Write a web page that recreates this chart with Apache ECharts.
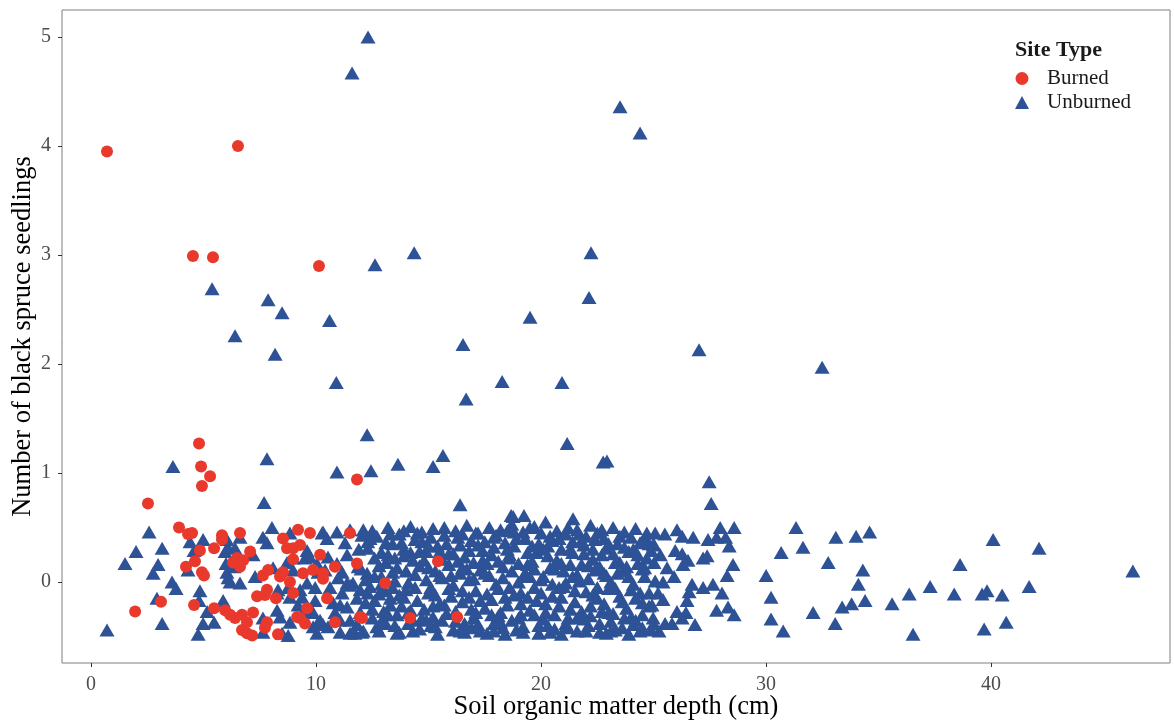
<!DOCTYPE html>
<html>
<head>
<meta charset="utf-8">
<script src="https://cdn.jsdelivr.net/npm/echarts@6/dist/echarts.min.js"></script>
<style>html,body{margin:0;padding:0;background:#fff}#c{width:1174px;height:720px}</style>
</head>
<body>
<div id="c"></div>
<script>
// ---- data (soil organic matter depth [cm], jittered seedling count) ----
const xTicks = [0, 10, 20, 30, 40];
const yTicks = [0, 1, 2, 3, 4, 5];
const seriesNames = ['Burned', 'Unburned'];

const burned = [
[0.71,3.95],[6.53,4.0],[4.53,2.99],[5.42,2.98],[10.13,2.9],[4.8,1.27],[4.89,1.06],[5.29,0.97],[4.93,0.88],[11.82,0.94],
[2.53,0.72],[1.96,-0.27],[3.11,-0.18],[3.91,0.5],[4.31,0.44],[4.49,0.45],[4.22,0.14],[4.62,0.19],[5.02,0.06],[4.93,0.09],
[4.84,0.29],[4.58,-0.21],[5.47,0.31],[5.82,0.43],[5.82,0.39],[5.47,-0.24],[5.96,-0.26],[6.18,-0.3],[6.62,0.45],[7.07,0.28],
[6.49,0.22],[6.76,0.2],[6.62,0.14],[6.31,0.18],[6.71,-0.3],[6.4,-0.33],[6.93,-0.37],[6.71,-0.44],[6.93,-0.47],[7.16,-0.49],
[7.2,-0.28],[7.38,-0.13],[7.82,-0.07],[7.73,-0.12],[8.22,-0.15],[7.82,-0.37],[7.73,-0.42],[8.31,-0.48],[7.64,0.06],[7.87,0.11],
[8.4,0.05],[8.53,0.09],[8.84,0.0],[8.98,-0.1],[8.53,0.4],[8.71,0.31],[8.98,0.31],[9.29,0.34],[9.2,0.48],[9.73,0.45],
[8.98,0.21],[9.42,0.08],[9.87,0.11],[10.31,0.08],[10.18,0.25],[10.84,0.14],[9.6,-0.24],[9.16,-0.32],[9.29,-0.33],[9.51,-0.38],
[10.49,-0.15],[10.84,-0.37],[11.51,0.45],[11.82,0.17],[11.96,-0.32],[13.07,-0.01],[15.42,0.19],[12.04,-0.33],[14.18,-0.33],[16.27,-0.32],
[10.31,0.03]
];

const unburnedHigh = [
[3.64,1.06],[5.38,2.69],[6.4,2.26],[7.87,2.59],[8.49,2.47],[8.18,2.09],[7.82,1.13],[7.69,0.73],[10.6,2.4],[10.9,1.83],
[10.93,1.01],[11.6,4.67],[12.31,5.0],[12.62,2.91],[12.27,1.35],[12.44,1.02],[13.64,1.08],[14.36,3.02],[15.2,1.06],[15.64,1.16],
[16.53,2.18],[16.67,1.68],[16.4,0.71],[18.27,1.84],[19.51,2.43],[20.93,1.83],[21.16,1.27],[22.22,3.02],[22.13,2.61],[22.76,1.1],
[22.93,1.11],[23.51,4.36],[24.4,4.12],[27.02,2.13],[27.47,0.92],[27.56,0.72],[32.49,1.97],[46.3,0.1],
[18.76,0.6],[21.42,0.58],[18.67,0.61],[19.24,0.61]
];

const unburnedLeft = [
[0.71,-0.44],[1.51,0.17],[2.0,0.28],[2.58,0.46],[3.16,0.31],[2.98,0.16],[2.76,0.08],[3.6,0.0],[3.78,-0.06],[2.93,-0.15],
[3.16,-0.38],[4.4,0.37],[4.98,0.39],[4.58,0.29],[4.31,0.11],[4.84,-0.08],[4.8,-0.17],[5.87,-0.17],[5.16,-0.27],[4.98,-0.38],
[5.47,-0.37],[4.76,-0.48],[5.96,0.28],[6.04,0.09],[6.62,0.41],[6.09,0.32],[6.0,0.17],[6.36,0.14],[6.09,0.04],[6.62,-0.01],
[8.04,0.5],[7.82,0.36],[8.09,0.13],[8.71,0.18],[8.98,0.11],[8.31,-0.07],[9.29,-0.07],[9.38,-0.14],[8.27,-0.1],[9.2,-0.21],
[9.87,-0.28],[8.4,-0.32],[8.84,-0.37],[8.76,-0.49],[10.09,-0.37],[10.04,-0.47],[9.42,-0.28],[9.6,0.29],[9.51,0.22],[10.31,0.46],
[10.49,0.4],[10.93,0.46],[11.38,0.25],[10.98,0.04],[11.38,-0.01],[11.64,-0.01],[11.16,-0.1],[10.76,-0.19],[11.07,-0.21],[11.38,-0.23],
[11.51,-0.35],[10.31,-0.39],[10.53,-0.41],[11.07,-0.46],[11.51,-0.47],[11.73,-0.47],[7.64,-0.33],[8.49,-0.47],[9.6,-0.01],[10.4,0.11],
[10.04,0.17],[8.84,0.45],[10.27,0.45],[11.51,0.48],[12.04,0.43],[11.29,0.36],[6.4,0.31],[7.2,0.25],[9.73,0.23],[10.53,0.23],
[10.93,0.17],[11.16,0.09],[11.87,0.14],[12.27,0.08],[8.98,0.22],[10.09,0.09],[6.18,0.0],[8.76,-0.05],[9.96,-0.05],[10.62,-0.05],
[11.51,-0.03],[11.96,-0.07],[11.82,-0.15],[9.96,-0.17],[10.84,-0.28],[11.96,-0.28],[9.73,-0.28],[10.18,-0.35],[11.07,-0.35],[7.64,-0.46],
[12.04,-0.46],[11.82,-0.39],[9.87,-0.41],[6.04,0.39],[7.64,0.41],[7.29,0.05],[8.27,-0.26],[8.84,-0.14]
];

const unburnedCore = [
[12.1,0.48],[12.3,0.31],[12.0,0.12],[12.4,-0.04],[12.2,-0.19],[12.5,-0.33],[12.1,-0.45],[12.6,0.22],
[12.7,0.42],[12.9,0.27],[12.6,0.05],[12.8,-0.11],[13.0,-0.27],[12.7,-0.41],[13.1,0.36],[12.9,-0.02],
[13.2,0.5],[13.4,0.35],[13.1,0.18],[13.5,0.01],[13.3,-0.15],[13.2,-0.3],[13.6,-0.47],[13.4,0.09],
[13.7,0.44],[13.9,0.24],[13.6,0.13],[14.0,-0.07],[13.8,-0.22],[14.1,-0.38],[13.9,0.3],[13.7,-0.46],
[14.2,0.51],[14.4,0.39],[14.3,0.2],[14.1,-0.01],[14.5,-0.17],[14.3,-0.35],[14.6,-0.43],[14.4,0.07],
[14.7,0.46],[14.9,0.28],[14.6,0.15],[15.0,-0.1],[14.8,-0.25],[15.1,-0.4],[14.9,0.02],[14.7,0.37],
[15.2,0.49],[15.4,0.33],[15.3,0.1],[15.1,-0.05],[15.5,-0.2],[15.2,-0.32],[15.4,-0.48],[15.6,0.21],
[15.7,0.43],[15.9,0.26],[15.6,0.04],[16.0,-0.13],[15.8,-0.29],[16.1,-0.44],[15.9,0.16],[15.7,0.5],
[16.2,0.47],[16.4,0.34],[16.3,0.19],[16.1,-0.03],[16.5,-0.18],[16.2,-0.36],[16.6,-0.46],[16.4,0.08],
[16.7,0.52],[16.9,0.38],[16.6,0.23],[17.0,0.03],[16.8,-0.14],[17.1,-0.28],[16.9,-0.42],[16.7,0.12],
[17.2,0.45],[17.4,0.29],[17.3,0.11],[17.1,-0.08],[17.5,-0.24],[17.2,-0.39],[17.6,-0.47],[17.4,0.2],
[17.7,0.5],[17.9,0.32],[17.6,0.17],[18.0,-0.02],[17.8,-0.16],[18.1,-0.31],[17.9,-0.45],[17.7,0.06],
[18.2,0.48],[18.4,0.36],[18.3,0.14],[18.1,-0.06],[18.5,-0.21],[18.2,-0.37],[18.6,0.25],[18.4,-0.48],
[18.7,0.53],[18.9,0.4],[18.6,0.22],[19.0,0.0],[18.8,-0.12],[19.1,-0.3],[18.9,-0.44],[18.7,0.1],
[19.2,0.46],[19.4,0.27],[19.3,0.08],[19.1,-0.1],[19.5,-0.26],[19.2,-0.41],[19.6,0.33],[19.4,0.16],
[19.7,0.51],[19.9,0.35],[19.6,0.19],[20.0,0.02],[19.8,-0.17],[20.1,-0.34],[19.9,-0.47],[19.7,-0.05],
[20.2,0.55],[20.4,0.42],[20.3,0.24],[20.1,0.05],[20.5,-0.13],[20.2,-0.28],[20.6,-0.43],[20.4,0.13],
[20.7,0.47],[20.9,0.3],[20.6,0.12],[21.0,-0.04],[20.8,-0.22],[21.1,-0.38],[20.9,-0.48],[20.7,0.2],
[21.2,0.5],[21.4,0.37],[21.3,0.16],[21.1,-0.01],[21.5,-0.18],[21.2,-0.33],[21.6,-0.45],[21.4,0.27],
[21.7,0.44],[21.9,0.26],[21.6,0.07],[22.0,-0.09],[21.8,-0.27],[22.1,-0.4],[21.9,0.34],[21.7,0.01],
[22.2,0.52],[22.4,0.39],[22.3,0.21],[22.1,0.03],[22.5,-0.15],[22.2,-0.31],[22.6,-0.46],[22.4,0.11],
[22.7,0.48],[22.9,0.31],[22.6,0.14],[23.0,-0.06],[22.8,-0.2],[23.1,-0.36],[22.9,-0.47],[22.7,0.25],
[23.2,0.5],[23.4,0.35],[23.3,0.18],[23.1,0.0],[23.5,-0.13],[23.2,-0.29],[23.6,-0.42],[23.4,0.08],
[23.7,0.46],[23.9,0.28],[23.6,0.1],[24.0,-0.07],[23.8,-0.24],[24.1,-0.39],[23.9,-0.48],[23.7,0.32],
[24.2,0.49],[24.4,0.36],[24.3,0.17],[24.1,-0.02],[24.5,-0.19],[24.2,-0.35],[24.6,0.05],[24.4,-0.45],
[24.7,0.45],[24.9,0.29],[24.6,0.13],[24.8,-0.1],[24.5,-0.3],[24.9,-0.44],[24.7,0.22],
[12.4,0.4],[12.2,0.02],[12.5,-0.25],[12.3,0.37],[12.8,0.15],[12.9,-0.36],[12.6,-0.17],
[13.3,0.44],[13.0,-0.08],[13.2,0.25],[13.5,-0.4],[13.3,-0.21],
[13.8,0.36],[13.6,-0.3],[14.0,0.1],[13.9,-0.14],[14.2,0.27],[14.3,-0.45],[14.5,0.45],[14.2,-0.26],
[14.8,0.2],[14.9,-0.35],[15.1,0.41],[15.0,0.13],[15.3,-0.12],[15.5,0.28],[15.3,-0.41],[15.8,0.35],
[15.7,-0.21],[16.0,0.06],[16.2,-0.27],[16.3,0.41],[16.5,0.13],[16.6,-0.38],[16.5,-0.08],[16.8,0.29],
[17.0,-0.33],[17.1,0.45],[17.3,-0.17],[17.0,0.18],[17.5,0.37],[17.6,-0.11],[17.8,0.25],[17.9,-0.38],
[18.0,0.43],[18.3,0.04],[18.2,-0.28],[18.5,0.3],[18.4,-0.14],[18.8,0.46],[18.7,-0.35],[19.0,0.17],
[19.1,-0.2],[19.3,0.4],[19.2,-0.46],[19.5,0.05],[19.7,-0.3],[19.8,0.27],[20.0,-0.1],[20.0,0.45],
[20.3,-0.4],[20.3,0.33],[20.5,-0.02],[20.6,-0.3],[20.8,0.4],[21.0,0.1],[20.9,-0.14],[21.2,-0.42],
[21.3,0.3],[21.5,-0.08],[21.6,0.48],[21.8,0.16],[21.9,-0.34],[22.0,0.42],[22.2,-0.22],[22.3,0.3],
[22.5,-0.05],[22.6,-0.38],[22.8,0.4],[22.9,0.06],[23.0,-0.28],[23.2,0.26],[23.3,-0.44],[23.5,0.42],
[23.6,-0.18],[23.8,0.14],[24.0,0.41],[24.0,-0.32],[24.3,0.25],[24.4,-0.1],[24.6,0.4],[24.8,-0.22],
[25.0,0.35],[25.0,-0.38],
[12.5,0.47],[12.3,-0.1],[12.8,-0.45],[12.9,0.05],[13.1,-0.38],[13.4,-0.05],[13.5,0.22],[13.7,-0.12],[13.9,0.47],[14.1,-0.28],
[14.4,-0.05],[14.6,0.28],[14.7,-0.33],[15.0,0.33],[15.2,-0.22],[15.5,0.06],[15.6,-0.35],[15.9,-0.06],[16.1,0.26],[16.4,-0.45],
[16.5,0.44],[16.8,0.02],[16.9,-0.25],[17.2,0.34],[17.3,-0.45],[17.5,0.08],[17.8,-0.3],[17.9,0.41],[18.1,0.19],[18.3,-0.42],
[18.6,-0.05],[18.5,0.47],[18.8,0.33],[19.0,-0.33],[19.2,0.05],[19.4,-0.14],[19.5,0.5],[19.7,0.12],[19.9,-0.4],[20.1,0.3],
[20.2,-0.2],[20.4,-0.46],[20.5,0.38],[20.8,-0.05],[20.9,0.17],[21.1,0.44],[21.3,-0.25],[21.4,0.05],[21.6,-0.33],[21.8,0.38],
[22.0,-0.45],[22.1,0.15],[22.3,-0.12],[22.5,0.45],[22.7,-0.27],[22.8,0.08],[23.0,0.35],[23.1,-0.45],[23.3,-0.06],[23.5,0.18],
[23.7,-0.33],[23.9,0.05],[24.1,0.3],[24.2,-0.15],[24.5,-0.42],[24.5,0.12],[24.8,0.35],[25.2,-0.1],[25.3,0.25],[12.0,-0.3],
[11.9,0.3]
];

const unburnedRight = [
[27.96,0.5],[28.58,0.5],[27.42,0.39],[27.8,0.41],[28.2,0.41],[28.36,0.33],[26.76,0.41],[26.27,0.42],[26.04,0.48],[25.5,0.44],
[25.07,0.45],[24.98,0.34],[25.96,0.29],[26.27,0.26],[26.53,0.2],[26.31,0.16],[27.2,0.22],[27.38,0.24],[28.53,0.16],[28.27,0.06],
[25.02,0.18],[25.6,0.13],[25.91,0.05],[25.07,0.01],[25.42,0.0],[26.71,-0.02],[27.2,-0.05],[27.64,-0.02],[28.04,-0.1],[26.58,-0.09],
[26.49,-0.17],[25.42,-0.16],[24.93,-0.21],[26.04,-0.27],[26.44,-0.28],[27.8,-0.26],[28.31,-0.23],[28.58,-0.3],[24.98,-0.33],[26.27,-0.33],
[25.51,-0.38],[25.82,-0.38],[25.24,-0.45],[26.84,-0.39],
[31.33,0.5],[30.67,0.27],[31.64,0.32],[30.0,0.06],[30.22,-0.14],[30.22,-0.34],[30.76,-0.45],[33.1,0.41],[32.76,0.18],[32.09,-0.28],
[33.07,-0.38],[33.38,-0.23],[33.8,-0.2],[34.4,-0.17],[34.1,-0.02],[34.3,0.11],[34.0,0.42],[34.6,0.46],[35.6,-0.2],[36.36,-0.11],
[36.53,-0.48],[37.29,-0.04],[38.36,-0.11],[38.62,0.16],[39.6,-0.11],[39.82,-0.08],[39.69,-0.43],[40.49,-0.12],[40.67,-0.37],[40.09,0.39],
[41.69,-0.04],[42.13,0.31]
];

const unburned = unburnedLeft.concat(unburnedCore, unburnedRight, unburnedHigh);

const FONT = 'Liberation Serif';
const RED = '#E8392C';
const BLUE = '#2E5296';

const chart = echarts.init(document.getElementById('c'), null, {renderer: 'canvas'});
chart.setOption({
  animation: false,
  backgroundColor: '#ffffff',
  title: {
    text: 'Site Type', left: 1010, top: 34,
    textStyle: {fontFamily: FONT, fontSize: 22, fontWeight: 'bold', color: '#1a1a1a'}
  },
  legend: {
    data: [{name: 'Burned', icon: 'circle'}, {name: 'Unburned', icon: 'triangle'}],
    orient: 'vertical', left: 1010, top: 63,
    itemWidth: 14, itemHeight: 13, itemGap: 3,
    textStyle: {fontFamily: FONT, fontSize: 21, color: '#1a1a1a', padding: [0, 0, 0, 13]}
  },
  grid: {left: 62, right: 4, top: 10, bottom: 57, show: true, borderColor: '#7f7f7f', borderWidth: 1,
         containLabel: false, outerBoundsMode: 'none'},
  xAxis: {
    type: 'value', min: -1.29, max: 47.95,
    name: 'Soil organic matter depth (cm)', nameLocation: 'middle', nameGap: 31, nameMoveOverlap: false,
    nameTextStyle: {fontFamily: FONT, fontSize: 26.5, color: '#000'},
    axisLine: {show: false, onZero: false},
    axisTick: {show: true, length: 4, lineStyle: {color: '#333'}, customValues: xTicks},
    axisLabel: {fontFamily: FONT, fontSize: 20, color: '#4d4d4d', margin: 12, customValues: xTicks},
    splitLine: {show: false}
  },
  yAxis: {
    type: 'value', min: -0.743, max: 5.248,
    name: 'Number of black spruce seedlings', nameLocation: 'middle', nameGap: 25, nameMoveOverlap: false,
    nameTextStyle: {fontFamily: FONT, fontSize: 26.5, color: '#000'},
    axisLine: {show: false, onZero: false},
    axisTick: {show: true, length: 4, lineStyle: {color: '#333'}, customValues: yTicks},
    axisLabel: {fontFamily: FONT, fontSize: 20, color: '#4d4d4d', margin: 11, customValues: yTicks},
    splitLine: {show: false}
  },
  series: [
    {name: 'Unburned', type: 'scatter', symbol: 'triangle', symbolSize: [15, 13], data: unburned,
     itemStyle: {color: BLUE, opacity: 1}, z: 2, emphasis: {disabled: true}},
    {name: 'Burned', type: 'scatter', symbol: 'circle', symbolSize: 12, data: burned,
     itemStyle: {color: RED, opacity: 1}, z: 3, emphasis: {disabled: true}}
  ]
});
</script>
</body>
</html>
